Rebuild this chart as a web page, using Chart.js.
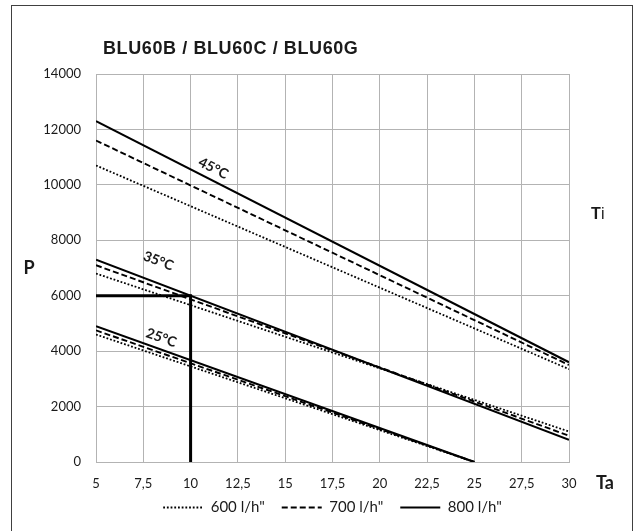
<!DOCTYPE html>
<html>
<head>
<meta charset="utf-8">
<script src="https://cdn.jsdelivr.net/npm/chart.js@4.4.0/dist/chart.umd.min.js"></script>
<style>
    html, body { margin: 0; padding: 0; background: #ffffff; }
    #wrap { position: relative; width: 638px; height: 531px; overflow: hidden; }
    #frame { position: absolute; left: 11px; top: 5px; width: 622px; height: 540px; border: 1.5px solid #404040; box-sizing: border-box; }
    canvas { position: absolute; left: 0; top: 0; }
</style>
</head>
<body>
<div id="wrap">
    <div id="frame"></div>
    <canvas id="chart" width="638" height="531"></canvas>
</div>
<script>
// Ta (x) values read at the ends of each straight line
const taStart = 5;
const taEnd = 30;
const taEnd25 = 25;

// P values at Ta = 5 and at the line end, per Ti and flow rate
const p45_600 = [10700, 3350];
const p45_700 = [11600, 3500];
const p45_800 = [12300, 3600];
const p35_600 = [6800, 1100];
const p35_700 = [7100, 950];
const p35_800 = [7300, 800];
const p25_600 = [4600, 0];
const p25_700 = [4750, 0];
const p25_800 = [4900, 0];

// example reading: Ta 10 -> P 6000
const markX = [5, 10, 10];
const markY = [6000, 6000, 0];

const flowLabels = ['600 l/h"', '700 l/h"', '800 l/h"'];
const tempLabels = ['45°C', '35°C', '25°C'];
const yTicks = [0, 2000, 4000, 6000, 8000, 10000, 12000, 14000];

const dashes = [[1.8, 1.9], [6, 3], []];
const widths = [1.8, 1.9, 2.2];

function line(vals, xEnd, flowIdx) {
    return {
        label: flowLabels[flowIdx],
        data: [{ x: taStart, y: vals[0] }, { x: xEnd, y: vals[1] }],
        borderColor: '#000000',
        backgroundColor: 'transparent',
        borderWidth: widths[flowIdx],
        borderDash: dashes[flowIdx],
        pointRadius: 0,
        fill: false
    };
}

const datasets = [
    line(p45_600, taEnd, 0),
    line(p45_700, taEnd, 1),
    line(p45_800, taEnd, 2),
    line(p35_600, taEnd, 0),
    line(p35_700, taEnd, 1),
    line(p35_800, taEnd, 2),
    line(p25_600, taEnd25, 0),
    line(p25_700, taEnd25, 1),
    line(p25_800, taEnd25, 2),
    {
        label: 'mark',
        data: markX.map((x, i) => ({ x: x, y: markY[i] })),
        borderColor: '#000000',
        borderWidth: 3,
        pointRadius: 0,
        fill: false
    }
];

// text positions for the Ti labels, in data units
const tempLabelPos = [
    { text: tempLabels[0], x: 11.2, y: 10600, ref: p45_800, xEnd: taEnd },
    { text: tempLabels[1], x: 8.3, y: 7250, ref: p35_800, xEnd: taEnd },
    { text: tempLabels[2], x: 8.45, y: 4480, ref: p25_800, xEnd: taEnd25 }
];

const extraText = {
    id: 'extraText',
    afterLayout(chart) {
        // let the x tick labels hang below the (short) axis box without clipping
        chart.scales.x.bottom += 16;
    },
    afterDraw(chart) {
        const ctx = chart.ctx;
        const xs = chart.scales.x;
        const ys = chart.scales.y;
        ctx.save();
        ctx.fillStyle = '#1a1a1a';
        ctx.textBaseline = 'middle';

        ctx.font = 'bold 18px "Liberation Sans", Arial, sans-serif';
        ctx.letterSpacing = '0.6px';
        ctx.textAlign = 'left';
        ctx.fillText('BLU60B / BLU60C / BLU60G', 103, 49);
        ctx.letterSpacing = '0px';

        ctx.font = 'bold 18px Lato, sans-serif';
        ctx.textAlign = 'center';
        ctx.fillText('P', 29, 268);
        ctx.fillText('Ta', 605, 483);

        ctx.font = 'bold 16px "Liberation Sans", Arial, sans-serif';
        ctx.textAlign = 'left';
        ctx.fillText('T', 591, 215);
        ctx.font = '16px "Liberation Sans", Arial, sans-serif';
        ctx.fillText('i', 601, 215);

        ctx.font = 'bold 14px Lato, sans-serif';
        ctx.textAlign = 'center';
        tempLabelPos.forEach(l => {
            const dx = xs.getPixelForValue(l.xEnd) - xs.getPixelForValue(taStart);
            const dy = ys.getPixelForValue(l.ref[1]) - ys.getPixelForValue(l.ref[0]);
            ctx.save();
            ctx.translate(xs.getPixelForValue(l.x), ys.getPixelForValue(l.y));
            ctx.rotate(Math.atan2(dy, dx));
            ctx.fillText(l.text, 0, 0);
            ctx.restore();
        });
        ctx.restore();
    }
};

new Chart(document.getElementById('chart'), {
    type: 'line',
    data: { datasets: datasets },
    options: {
        responsive: false,
        animation: false,
        layout: { padding: { left: 20, right: 69, top: 74, bottom: 6 } },
        plugins: {
            title: { display: false },
            tooltip: { enabled: false },
            legend: {
                position: 'bottom',
                fullSize: false,
                labels: {
                    usePointStyle: true,
                    pointStyleWidth: 40,
                    color: '#1a1a1a',
                    padding: 17,
                    font: { family: 'Lato, sans-serif', size: 15 },
                    generateLabels: (chart) => flowLabels.map((txt, i) => ({
                        text: txt,
                        datasetIndex: i,
                        pointStyle: 'line',
                        strokeStyle: '#000000',
                        fillStyle: '#000000',
                        lineWidth: widths[i],
                        lineDash: dashes[i],
                        fontColor: '#1a1a1a'
                    }))
                }
            }
        },
        scales: {
            x: {
                type: 'linear',
                min: 5,
                max: 30,
                afterBuildTicks: (scale) => {
                    const t = [];
                    for (let v = 5; v <= 30; v += 2.5) t.push({ value: v });
                    scale.ticks = t;
                },
                afterFit: (scale) => { scale.height = 21; },
                grid: { color: '#b3b3b3', lineWidth: 1, drawTicks: false },
                border: { color: '#b3b3b3' },
                ticks: {
                    padding: 14,
                    color: '#1a1a1a',
                    font: { family: 'Lato, sans-serif', size: 13 },
                    callback: (v) => String(v).replace('.', ',')
                }
            },
            y: {
                min: 0,
                max: 14000,
                afterBuildTicks: (scale) => { scale.ticks = yTicks.map(v => ({ value: v })); },
                afterFit: (scale) => { scale.width = 76; },
                grid: { color: '#b3b3b3', lineWidth: 1, drawTicks: false },
                border: { color: '#b3b3b3' },
                ticks: {
                    padding: 15,
                    color: '#1a1a1a',
                    font: { family: 'Lato, sans-serif', size: 13 },
                    callback: (v) => String(v)
                }
            }
        }
    },
    plugins: [extraText]
});
</script>
</body>
</html>
